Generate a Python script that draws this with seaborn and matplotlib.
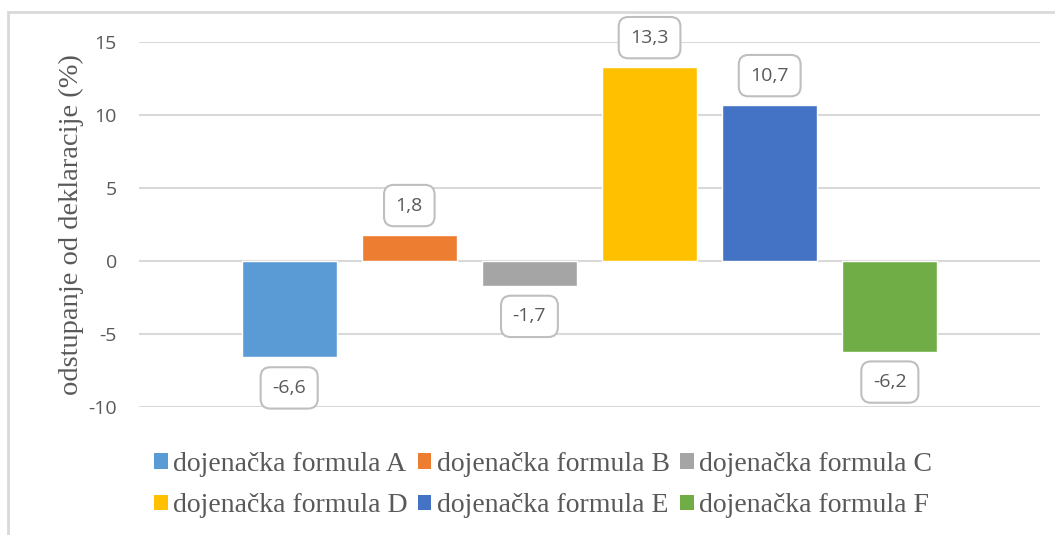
import pandas as pd
import matplotlib.pyplot as plt
import seaborn as sns
from matplotlib.patches import Rectangle, Patch

# data
formulas = ['dojenačka formula A', 'dojenačka formula B', 'dojenačka formula C',
            'dojenačka formula D', 'dojenačka formula E', 'dojenačka formula F']
deviation = [-6.6, 1.8, -1.7, 13.3, 10.7, -6.2]
colors = ['#5B9BD5', '#ED7D31', '#A5A5A5', '#FFC000', '#4472C4', '#70AD47']
y_ticks = [-10, -5, 0, 5, 10, 15]

df = pd.DataFrame({'formula': formulas, 'deviation': deviation})

sns.set_style('white')
plt.rcParams['font.family'] = ['DejaVu Sans']

fig = plt.figure(figsize=(10.55, 5.35), dpi=100)
ax = fig.add_axes([139 / 1055, 1 - 407 / 535, (1040 - 139) / 1055, (407 - 42) / 535])

sns.barplot(data=df, x='formula', y='deviation', hue='formula',
            palette=colors, width=0.79, ax=ax, legend=False, saturation=1)

ax.set_ylim(-10, 15)
ax.set_xlim(-1.25, 6.25)
ax.set_yticks(y_ticks)
ax.set_yticklabels([str(t) for t in y_ticks], fontsize=14, color='#595959',
                   family='Open Sans')
ax.tick_params(axis='y', length=0, pad=16)
ax.set_xticks([])
ax.set_xlabel('')
ax.set_ylabel('odstupanje od deklaracije (%)', family='Liberation Serif',
              fontsize=20.5, color='#595959', labelpad=3)
ax.yaxis.grid(True, color='#D9D9D9', linewidth=1.5)
ax.set_axisbelow(True)
for s in ax.spines.values():
    s.set_visible(False)

# data labels
for i, v in enumerate(deviation):
    off = 21 if v > 0 else -22
    ax.annotate(str(v).replace('.', ','), xy=(i, v), xytext=(0, off),
                textcoords='offset points', ha='center', va='center',
                fontsize=14, color='#595959', family='Open Sans',
                bbox=dict(boxstyle='round,pad=0.6,rounding_size=0.5',
                          fc='white', ec='#BFBFBF', lw=1.5))

# legend, filled row by row (matplotlib fills columns first)
order = [0, 3, 1, 4, 2, 5]
handles = [Patch(facecolor=colors[k], edgecolor='none') for k in order]
labels = [formulas[k] for k in order]
fig.legend(handles, labels, loc='center', bbox_to_anchor=(543 / 1055, 1 - 485 / 535),
           ncol=3, frameon=False, handlelength=0.5, handleheight=0.5,
           handletextpad=0.2, columnspacing=0.35, labelspacing=0.6,
           prop={'family': 'Liberation Serif', 'size': 20}, labelcolor='#595959')

# outer chart frame
fig.patches.append(Rectangle((8 / 1055, -0.1), 1.1, 1 - 12 / 535 + 0.1,
                             transform=fig.transFigure, fill=False,
                             ec='#D9D9D9', lw=2, zorder=0))

fig.savefig('out.png', dpi=100)
